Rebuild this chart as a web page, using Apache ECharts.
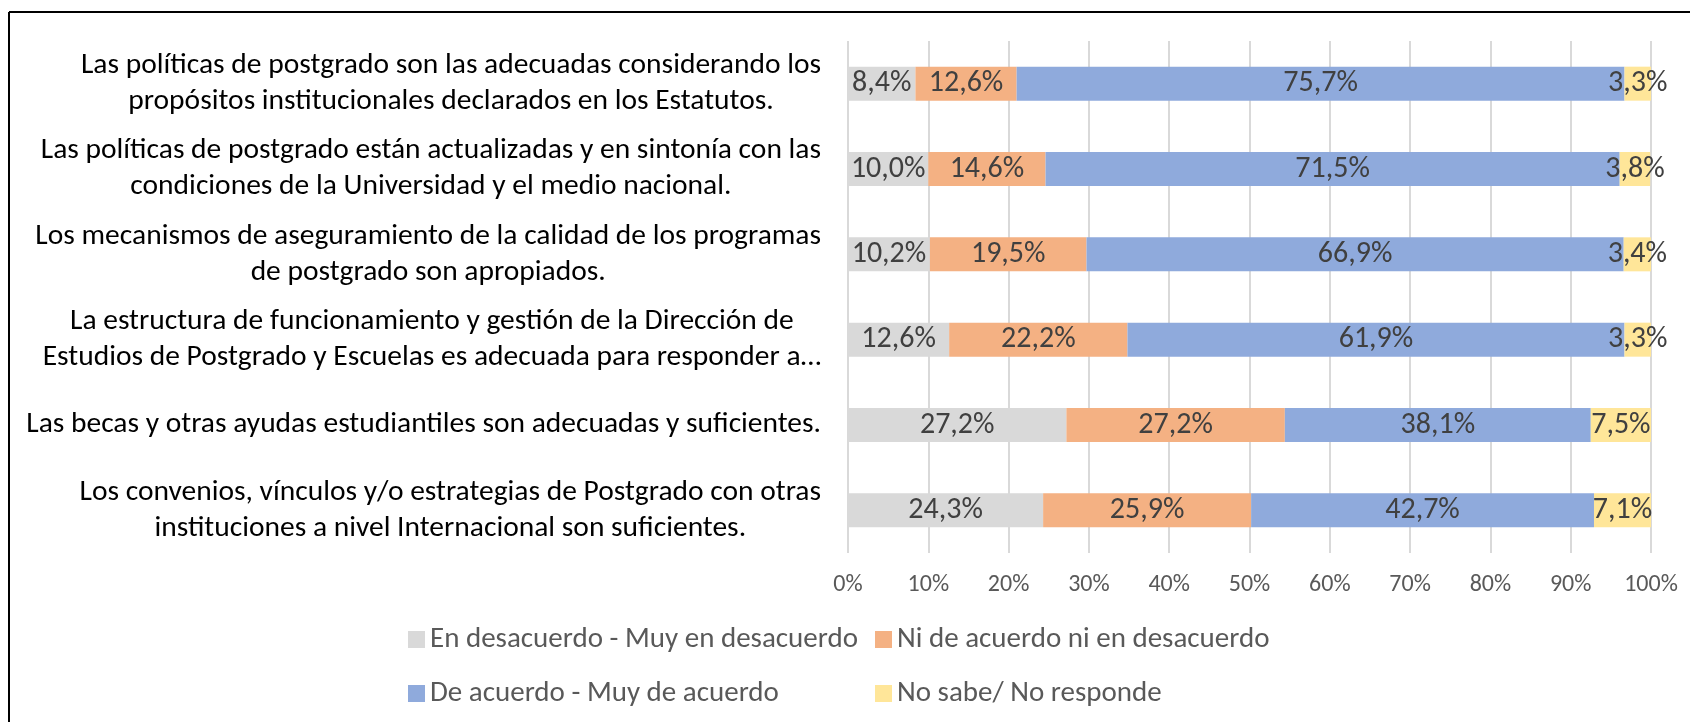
<!DOCTYPE html>
<html>
<head>
<meta charset="utf-8">
<script src="https://cdn.jsdelivr.net/npm/echarts@6/dist/echarts.min.js"></script>
<style>
  html, body { margin: 0; padding: 0; background: #fff; }
  #chart { width: 1690px; height: 722px; }
</style>
</head>
<body>
<div id="chart"></div>
<script>
var categories = [
  'Las políticas de postgrado son las adecuadas considerando los\npropósitos institucionales declarados en los Estatutos.',
  'Las políticas de postgrado están actualizadas y en sintonía con las\ncondiciones de la Universidad y el medio nacional.',
  'Los mecanismos de aseguramiento de la calidad de los programas\nde postgrado son apropiados.',
  'La estructura de funcionamiento y gestión de la Dirección de\nEstudios de Postgrado y Escuelas es adecuada para responder a…',
  'Las becas y otras ayudas estudiantiles son adecuadas y suficientes.',
  'Los convenios, vínculos y/o estrategias de Postgrado con otras\ninstituciones a nivel Internacional son suficientes.'
]
var seriesNames = [
  'En desacuerdo - Muy en desacuerdo',
  'Ni de acuerdo ni en desacuerdo',
  'De acuerdo - Muy de acuerdo',
  'No sabe/ No responde'
]
var desacuerdo = [8.4, 10.0, 10.2, 12.6, 27.2, 24.3]
var neutral = [12.6, 14.6, 19.5, 22.2, 27.2, 25.9]
var acuerdo = [75.7, 71.5, 66.9, 61.9, 38.1, 42.7]
var noSabe = [3.3, 3.8, 3.4, 3.3, 7.5, 7.1]
var colors = ['#d9d9d9', '#f4b183', '#8faadc', '#ffe699']

var font = 'Carlito, Calibri, Lato, sans-serif'
var chart = echarts.init(document.getElementById('chart'))

function makeSeries(name, data, color) {
  return {
    name: name,
    type: 'bar',
    stack: 'total',
    barWidth: 34,
    data: data,
    itemStyle: { color: color },
    label: {
      show: true,
      position: 'inside',
      color: '#404040',
      fontSize: 30,
      fontFamily: font,
      formatter: function (p) {
        return p.value.toFixed(1).replace('.', ',') + '%'
      }
    }
  }
}

var legendStyle = {
  orient: 'vertical',
  top: 620,
  itemWidth: 17,
  itemHeight: 17,
  itemGap: 25,
  icon: 'rect',
  textStyle: { color: '#595959', fontSize: 29, fontFamily: font }
}

chart.setOption({
  animation: false,
  grid: { left: 848, right: 39, top: 41, height: 512 },
  xAxis: {
    type: 'value',
    min: 0,
    max: 100,
    interval: 10,
    axisLine: { show: false },
    axisTick: { show: false },
    axisLabel: {
      margin: 20,
      color: '#595959',
      fontSize: 24,
      fontFamily: font,
      formatter: '{value}%'
    },
    splitLine: { show: true, lineStyle: { color: '#d9d9d9', width: 2 } }
  },
  yAxis: {
    type: 'category',
    inverse: true,
    data: categories,
    axisLine: { show: false },
    axisTick: { show: false },
    axisLabel: {
      margin: 27,
      align: 'right',
      formatter: function (v) {
        return v.split('\n').map(function (s) { return '{c|' + s + '}' }).join('\n')
      },
      rich: {
        c: { align: 'center', color: '#000', fontSize: 29.5, lineHeight: 36, fontFamily: font }
      }
    }
  },
  legend: [
    Object.assign({ data: [seriesNames[0], seriesNames[2]], left: 403 }, legendStyle),
    Object.assign({ data: [seriesNames[1], seriesNames[3]], left: 870 }, legendStyle)
  ],
  graphic: [
    { type: 'line', shape: { x1: 9, y1: 12, x2: 1690, y2: 12 }, style: { stroke: '#000', lineWidth: 2 } },
    { type: 'line', shape: { x1: 9, y1: 12, x2: 9, y2: 722 }, style: { stroke: '#000', lineWidth: 2 } }
  ],
  series: [
    makeSeries(seriesNames[0], desacuerdo, colors[0]),
    makeSeries(seriesNames[1], neutral, colors[1]),
    makeSeries(seriesNames[2], acuerdo, colors[2]),
    makeSeries(seriesNames[3], noSabe, colors[3])
  ]
})
</script>
</body>
</html>
